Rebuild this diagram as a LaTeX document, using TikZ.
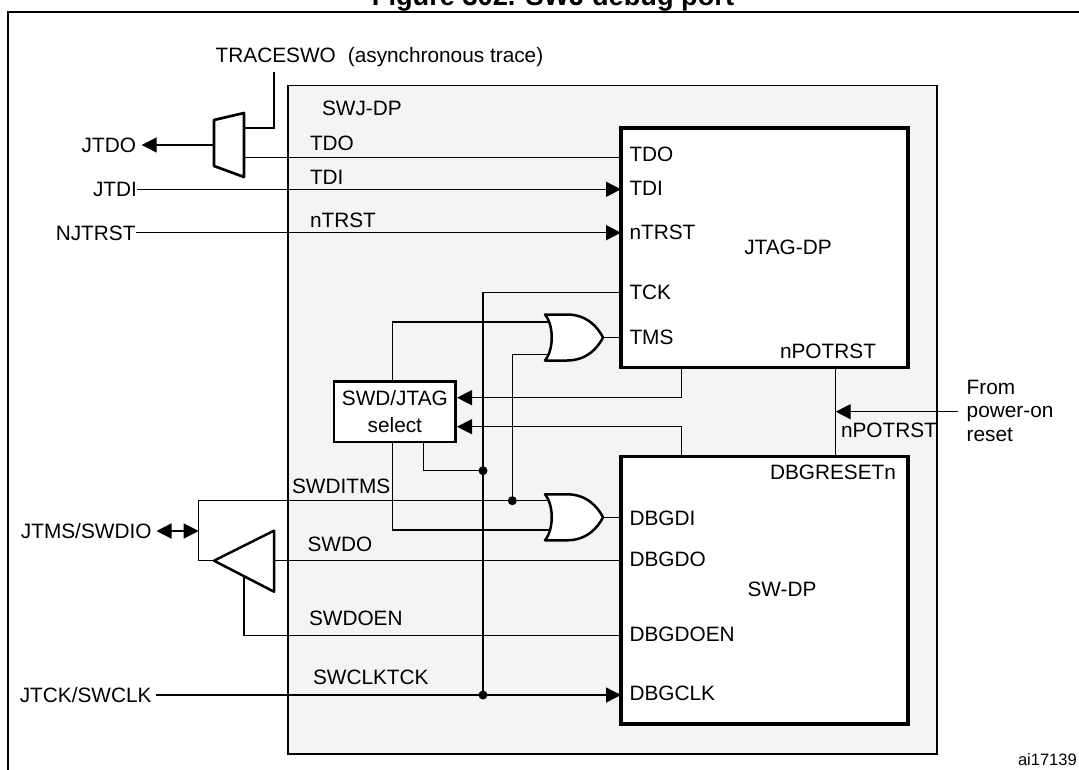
\documentclass[tikz,border=0pt]{standalone}
\usepackage{fontspec}
\setmainfont{Liberation Sans}
\usetikzlibrary{arrows.meta}
\definecolor{swjgray}{RGB}{244,244,244}
\begin{document}
\begin{tikzpicture}[x=1pt,y=-1pt,
  lbl/.style={font=\fontsize{20.8pt}{23.3pt}\selectfont, inner sep=0pt, outer sep=0pt},
  capl/.style={lbl, text height=14.9pt, text depth=0pt},
  wire/.style={line width=1.4pt},
  arr/.style={wire, -{Triangle[length=15pt,width=15pt]}},
  blk/.style={draw, line width=3.8pt, fill=white, inner sep=0pt, outer sep=0pt, anchor=north west},
  gatestyle/.style={draw, line width=2.5pt, fill=white, line join=round},
  jdot/.style={circle, fill=black, inner sep=0pt, outer sep=0pt, minimum size=9pt},
  orgate/.pic={\draw[gatestyle] (-58,-23) -- (-36,-23) .. controls (-16,-23) and (-5,-10) .. (0,0) .. controls (-5,10) and (-16,23) .. (-36,23) -- (-58,23) .. controls (-49,12) and (-49,-12) .. cycle;}
]
\useasboundingbox (0,0) rectangle (1079,770);

% title (cropped at top, as in the reference)
\node[lbl, font=\fontsize{27.2pt}{30pt}\selectfont\bfseries, anchor=base] (title) at (553,6) {Figure 302. SWJ debug port};

% outer frame
\coordinate (frameBL) at (7.6,800);
\coordinate (frameTL) at (7.6,12.3);
\coordinate (frameTR) at (1100,12.3);
\draw[line width=2pt] (frameBL) -- (frameTL) -- (frameTR);

% SWJ-DP region
\node[draw, line width=1.4pt, fill=swjgray, inner sep=0pt, outer sep=0pt, anchor=north west,
      minimum width=649pt, minimum height=668.3pt] (swj) at (288,85.7) {};

% main blocks
\node[blk, minimum width=287pt, minimum height=239.2pt] (jtag) at (621,128.3) {};
\node[blk, minimum width=287pt, minimum height=267.5pt] (swdp) at (621,456.5) {};
\node[blk, line width=2.8pt, minimum width=121.7pt, minimum height=60.3pt, align=center,
      font=\fontsize{20.8pt}{26.7pt}\selectfont] (sel) at (334,381.7) {SWD/JTAG\\select};

% ports
\coordinate (jTDO) at (621,157.7);
\coordinate (jTDI) at (621,189.3);
\coordinate (jTRST) at (621,232.7);
\coordinate (jTCK) at (621,292.3);
\coordinate (jTMS) at (621,337.5);
\coordinate (jSEL) at (681.7,367.5);
\coordinate (jPOR) at (835.7,367.5);
\coordinate (sSEL) at (681.7,456.5);
\coordinate (sPOR) at (835.7,456.5);
\coordinate (sDI) at (621,517.3);
\coordinate (sDO) at (621,560.7);
\coordinate (sDOEN) at (621,635.7);
\coordinate (sCLK) at (621,695);

% gate coordinates
\coordinate (g1o) at (603,337.5);
\coordinate (g2o) at (603,517.3);
\coordinate (g1a) at (552,322);
\coordinate (g1b) at (552,354.3);
\coordinate (g2a) at (552,500.7);
\coordinate (g2b) at (552,530);

% mux
\coordinate (mTL) at (214,120);
\coordinate (mTR) at (244,113);
\coordinate (mBR) at (244,177);
\coordinate (mBL) at (214,166);
\coordinate (muxL) at (214,145);
\coordinate (muxTr) at (244,128);
\coordinate (muxTdo) at (244,157.7);
\coordinate (trTop) at (274,72);
\coordinate (trC) at (274,128);

% buffer / loop
\coordinate (loopT) at (198.7,500.7);
\coordinate (loopM) at (198.7,531);
\coordinate (loopB) at (198.7,560.7);
\coordinate (bufTip) at (214,560.7);
\coordinate (bufTop) at (274,530.7);
\coordinate (bufBot) at (274,591.7);
\coordinate (bufOut) at (274,560.7);
\coordinate (enC) at (243.8,635.7);
\coordinate (enT) at (243.8,576.3);

% misc corners
\coordinate (tckC) at (483,292.3);
\coordinate (selTop) at (392.6,381.7);
\coordinate (selTopC) at (392.6,322);
\coordinate (selBL) at (392.6,442);
\coordinate (selBLC) at (392.6,530);
\coordinate (selBR) at (423.6,442);
\coordinate (selBRC) at (423.6,470.7);
\coordinate (selIn1) at (457,397.7);
\coordinate (selIn2) at (457,426.7);
\coordinate (selC1) at (681.7,397.7);
\coordinate (selC2) at (681.7,426.7);
\coordinate (g1bC) at (512.3,354.3);
\coordinate (porSrc) at (958,411.7);
\coordinate (porTip) at (835.7,411.7);

% junction dots positions
\coordinate (d1) at (483,470.7);
\coordinate (d2) at (512.3,500.7);
\coordinate (dClk) at (483,695);

% external labels
\node[capl, anchor=west] (trace) at (215.7,55.5) {TRACESWO\hspace{12pt}(asynchronous trace)};
\node[capl, anchor=east] (jtdo) at (136,145) {JTDO};
\node[capl, anchor=east] (jtdi) at (137,189.3) {JTDI};
\node[capl, anchor=east] (njtrst) at (135.5,232.7) {NJTRST};
\node[capl, anchor=east] (jtms) at (151.5,531) {JTMS/SWDIO};
\node[capl, anchor=east] (jtck) at (151.5,695) {JTCK/SWCLK};
\node[lbl, anchor=north west, align=left] (por) at (966.7,380.1) {From\\power-on\\reset};
\node[lbl, font=\fontsize{16.5pt}{19pt}\selectfont, anchor=base west] (figid) at (1018,765.2) {ai17139};

% wires
\draw[wire] (trTop) -- (trC) -- (muxTr);
\draw[arr, shorten >=5.7pt] (muxL) -- (jtdo.east);
\draw[wire] (jTDO) -- (muxTdo);
\draw[arr] (jtdi.east) -- (jTDI);
\draw[arr] (njtrst.east) -- (jTRST);
\draw[wire] (jTCK) -- (tckC) -- (dClk);
\draw[wire] (jTMS) -- (g1o);
\draw[wire] (selTop) -- (selTopC) -- (g1a);
\draw[wire] (d2) -- (g1bC) -- (g1b);
\draw[arr] (jSEL) -- (selC1) -- (selIn1);
\draw[arr] (sSEL) -- (selC2) -- (selIn2);
\draw[wire] (selBR) -- (selBRC) -- (d1);
\draw[wire] (selBL) -- (selBLC) -- (g2b);
\draw[wire] (bufTip) -- (loopB) -- (loopT) -- (g2a);
\draw[wire, {Triangle[length=15pt,width=15pt]}-{Triangle[length=15pt,width=15pt]}, shorten <=5pt] (jtms.east) -- (loopM);
\draw[wire] (g2o) -- (sDI);
\draw[wire] (sDO) -- (bufOut);
\draw[wire] (sDOEN) -- (enC) -- (enT);
\draw[arr, shorten <=4pt] (jtck.east) -- (sCLK);
\draw[wire] (jPOR) -- (sPOR);
\draw[arr] (porSrc) -- (porTip);

% gates, mux, buffer
\pic at (g1o) {orgate};
\pic at (g2o) {orgate};
\draw[gatestyle, line width=2.7pt] (mTL) -- (mTR) -- (mBR) -- (mBL) -- cycle;
\draw[gatestyle] (bufTip) -- (bufTop) -- (bufBot) -- cycle;

% dots
\node[jdot] (j1) at (d1) {};
\node[jdot] (j2) at (d2) {};
\node[jdot] (j3) at (dClk) {};

% labels on SWJ-DP region
\node[capl, anchor=west] (lswj) at (322,108) {SWJ-DP};
\node[capl, anchor=west] (ltdo) at (310,142.7) {TDO};
\node[capl, anchor=west] (ltdi) at (310,176.7) {TDI};
\node[capl, anchor=west] (ltrst) at (310,220) {nTRST};
\node[capl, anchor=west] (lswditms) at (292,486) {SWDITMS};
\node[capl, anchor=west] (lswdo) at (307.5,544) {SWDO};
\node[capl, anchor=west] (lswdoen) at (309,618) {SWDOEN};
\node[capl, anchor=west] (lswclk) at (313,677) {SWCLKTCK};
\node[capl, anchor=west] (lpor2) at (841,430) {nPOTRST};

% JTAG-DP labels
\node[capl, anchor=west] (ptdo) at (629.5,154.5) {TDO};
\node[capl, anchor=west] (ptdi) at (629.5,188) {TDI};
\node[capl, anchor=west] (ptrst) at (629.5,232) {nTRST};
\node[capl, anchor=west] (ptck) at (629.5,291.7) {TCK};
\node[capl, anchor=west] (ptms) at (629.5,337.5) {TMS};
\node[capl] (ljtag) at (788,246.7) {JTAG-DP};
\node[capl] (lpor1) at (828,350.8) {nPOTRST};

% SW-DP labels
\node[capl, anchor=east] (prst) at (896,472) {DBGRESETn};
\node[capl, anchor=west] (pdi) at (629.5,517.7) {DBGDI};
\node[capl, anchor=west] (pdo) at (629.5,559.5) {DBGDO};
\node[capl] (lswdp) at (782,589) {SW-DP};
\node[capl, anchor=west] (pdoen) at (629.5,634) {DBGDOEN};
\node[capl, anchor=west] (pclk) at (629.5,693.5) {DBGCLK};
\end{tikzpicture}
\end{document}
